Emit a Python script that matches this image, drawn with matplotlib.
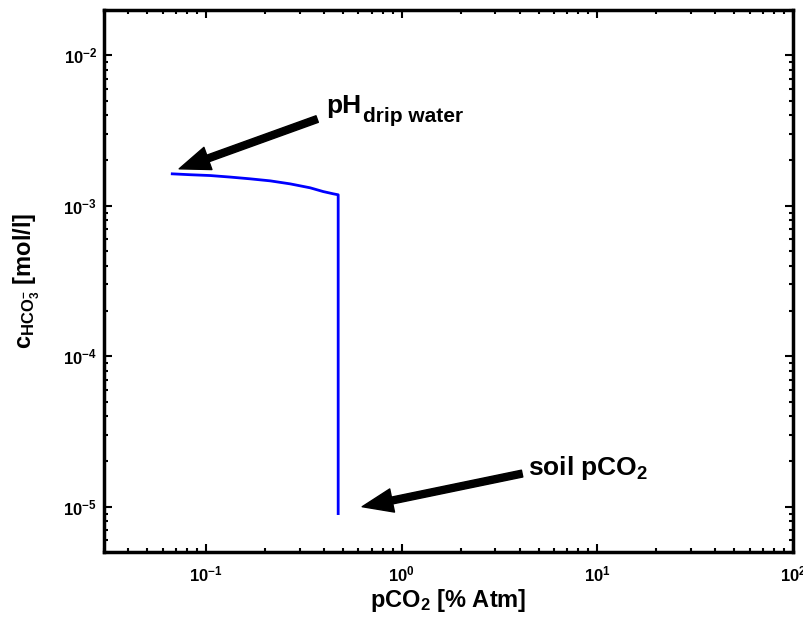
import matplotlib
matplotlib.use("Agg")
import matplotlib.pyplot as plt
import numpy as np

plt.rcParams['font.family'] = ['Liberation Sans', 'DejaVu Sans']
plt.rcParams['font.weight'] = 'bold'
plt.rcParams['mathtext.fontset'] = 'custom'
plt.rcParams['mathtext.rm'] = 'Liberation Sans:bold'
plt.rcParams['mathtext.it'] = 'Liberation Sans:bold'
plt.rcParams['mathtext.bf'] = 'Liberation Sans:bold'
plt.rcParams['mathtext.sf'] = 'Liberation Sans:bold'
plt.rcParams['mathtext.default'] = 'rm'

# Data
pco2 = [0.0670, 0.0828, 0.1048, 0.1327, 0.1678, 0.2123, 0.2686, 0.3399,
        0.396, 0.4455, 0.4726, 0.4726]
c_hco3 = [1.630e-3, 1.608e-3, 1.588e-3, 1.551e-3, 1.510e-3, 1.464e-3,
          1.398e-3, 1.316e-3, 1.243e-3, 1.201e-3, 1.183e-3, 9.0e-6]

xlim = (0.03, 100)
ylim = (5e-6, 2e-2)

fig = plt.figure(figsize=(8.04, 6.19), dpi=100)
ax = fig.add_axes([104/804, 1-552/619, (793-104)/804, (552-10)/619])

ax.plot(pco2, c_hco3, color='#0000ff', lw=2)
ax.set_xscale('log')
ax.set_yscale('log')
ax.set_xlim(*xlim)
ax.set_ylim(*ylim)

for s in ax.spines.values():
    s.set_linewidth(2.5)
ax.tick_params(which='both', direction='in', top=True, right=True, width=1.5, labelsize=12)
ax.tick_params(which='major', length=6)
ax.tick_params(which='minor', length=3)
ax.tick_params(axis='x', which='major', pad=9)
ax.tick_params(axis='y', which='major', pad=5)

ax.set_xlabel(r'pCO$_2$ [% Atm]', fontsize=17, fontweight='bold', labelpad=2)
ax.set_ylabel(r'c$_{\mathrm{HCO}_3^{-}}$ [mol/l]', fontsize=17, fontweight='bold', labelpad=15)

arrow = dict(facecolor='black', edgecolor='black', width=5, headwidth=17, headlength=22, shrink=0)
ax.annotate('', xy=(0.0727, 1.76e-3), xytext=(0.369, 3.77e-3), arrowprops=arrow)
ax.annotate('', xy=(0.627, 1.0e-5), xytext=(4.12, 1.66e-5), arrowprops=arrow)

ax.text(0.41, 4.15e-3, 'pH', fontsize=19, fontweight='bold', va='baseline', ha='left')
ax.text(0.634, 3.62e-3, 'drip water', fontsize=15, fontweight='bold', va='baseline', ha='left')
ax.text(4.4, 1.62e-5, r'soil pCO$_2$', fontsize=19, fontweight='bold', va='baseline', ha='left')

fig.savefig('out.png', dpi=100)
